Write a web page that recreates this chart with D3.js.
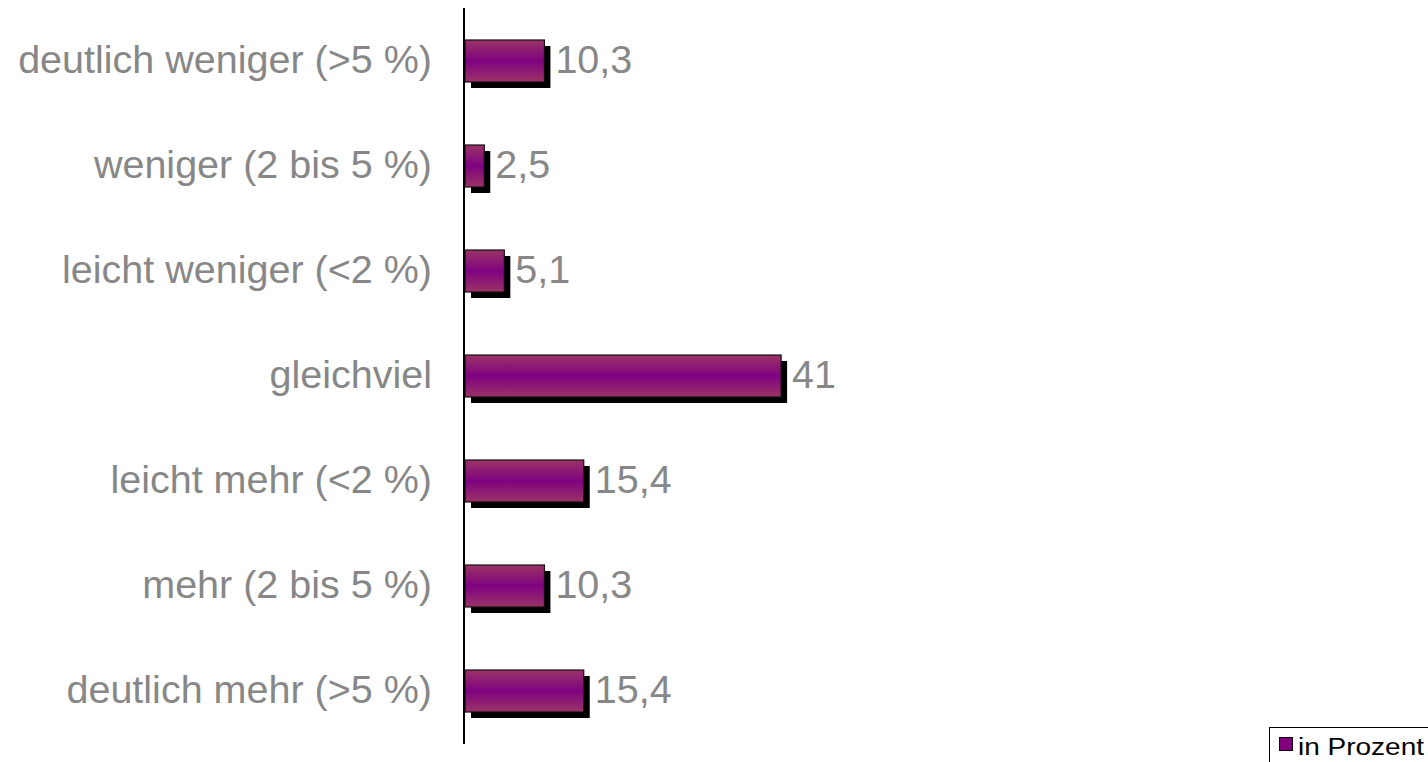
<!DOCTYPE html>
<html><head><meta charset="utf-8">
<script src="https://cdn.jsdelivr.net/npm/d3@7"></script>
<style>body{margin:0;background:#fff;overflow:hidden}svg{display:block}</style>
</head><body>
<svg id="c" width="1428" height="762"></svg>
<script>
const categories = ["deutlich weniger (>5 %)","weniger (2 bis 5 %)","leicht weniger (<2 %)","gleichviel","leicht mehr (<2 %)","mehr (2 bis 5 %)","deutlich mehr (>5 %)"];
const values = [10.3, 2.5, 5.1, 41, 15.4, 10.3, 15.4];
const valueLabels = ["10,3","2,5","5,1","41","15,4","10,3","15,4"];
const seriesName = "in Prozent";

const svg = d3.select("#c");
const font = "'Liberation Sans', Arial, sans-serif";
const grey = "#878787";
const defs = svg.append("defs");
const g = defs.append("linearGradient").attr("id","bg").attr("x1",0).attr("y1",0).attr("x2",0).attr("y2",1);
g.append("stop").attr("offset","0%").attr("stop-color","#9a3466");
g.append("stop").attr("offset","50%").attr("stop-color","#7f0380");
g.append("stop").attr("offset","100%").attr("stop-color","#9a3466");

const y = d3.scaleBand().domain(categories).range([8.5, 743.5]).paddingInner(0.6).paddingOuter(0.3);
const x = d3.scaleLinear().domain([0, 100]).range([465, 465 + 771]);

const data = categories.map((c,i)=>({c, v: values[i], l: valueLabels[i]}));
const sh = 6;
// shadows
svg.append("g").selectAll("rect").data(data).join("rect")
  .attr("x", x(0)+sh).attr("y", d=>y(d.c)+sh)
  .attr("width", d=>x(d.v)-x(0)).attr("height", y.bandwidth())
  .attr("fill","#000");
// bars
svg.append("g").selectAll("rect").data(data).join("rect")
  .attr("x", x(0)).attr("y", d=>y(d.c))
  .attr("width", d=>x(d.v)-x(0)).attr("height", y.bandwidth())
  .attr("fill","url(#bg)").attr("stroke","#111").attr("stroke-width",1.2);
// value labels
svg.append("g").selectAll("text").data(data).join("text")
  .attr("x", d=>x(d.v)+sh+5).attr("y", d=>y(d.c)+y.bandwidth()/2)
  .attr("dy","0.3em").attr("font-family",font).attr("font-size",39.5)
  .attr("fill",grey).text(d=>d.l);
// axis
const ax = svg.append("g").attr("transform",`translate(${x(0)-1},0)`)
  .call(d3.axisLeft(y).tickSize(0).tickPadding(32));
ax.select(".domain").attr("stroke","#000").attr("stroke-width",2).attr("d","M0,8V744");
ax.selectAll("text").attr("font-family",font).attr("font-size",39.5).attr("fill",grey).attr("dy","0.3em");

// legend
const lg = svg.append("g");
lg.append("rect").attr("x",1269.5).attr("y",727.5).attr("width",170).attr("height",50)
  .attr("fill","#fff").attr("stroke","#000").attr("stroke-width",1);
lg.append("rect").attr("x",1279.5).attr("y",737.5).attr("width",13).attr("height",13)
  .attr("fill","#800080").attr("stroke","#000").attr("stroke-width",1);
lg.append("text").attr("x",1298).attr("y",755).attr("font-family",font).attr("font-size",23)
  .attr("textLength",126).attr("lengthAdjust","spacingAndGlyphs")
  .attr("fill","#000").text(seriesName);
</script>
</body></html>
